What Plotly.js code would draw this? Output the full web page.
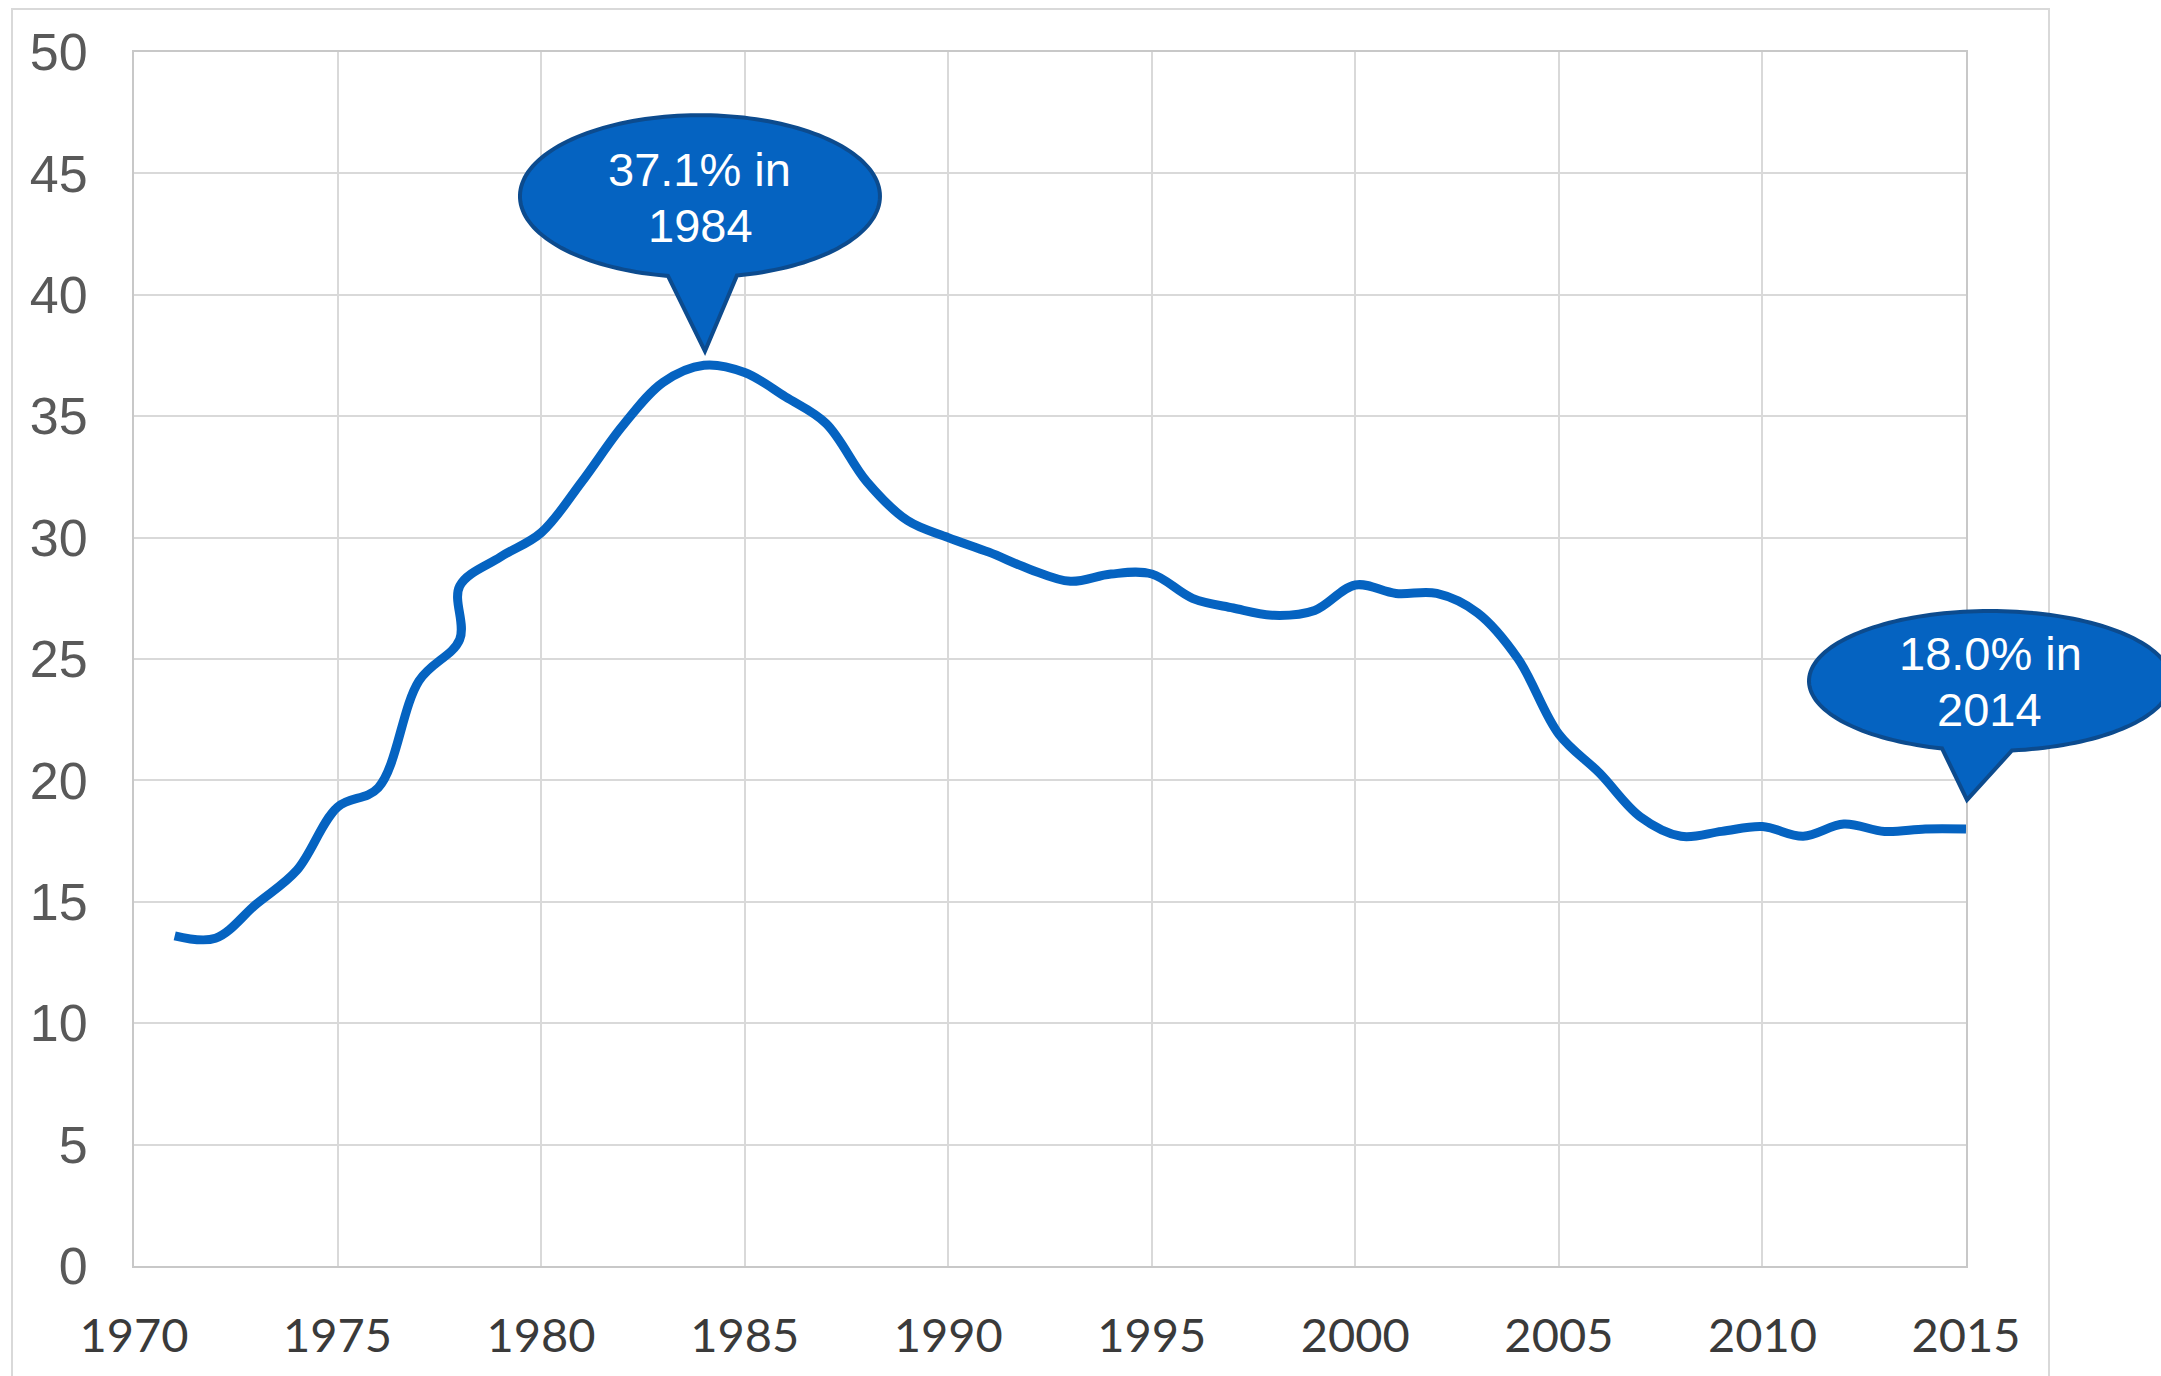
<!DOCTYPE html>
<html>
<head>
<meta charset="utf-8">
<script src="https://cdn.plot.ly/plotly-3.0.1.min.js"></script>
<style>
  html, body { margin: 0; padding: 0; background: #ffffff; }
  #chart { width: 2161px; height: 1376px; }
</style>
</head>
<body>
<div id="chart"></div>
<script>
// ---- data ----
const years = [1971, 1972, 1973, 1974, 1975, 1976, 1977, 1978, 1978, 1979,
               1980, 1981, 1982, 1983, 1984, 1985, 1986, 1987, 1988, 1989,
               1990, 1991, 1992, 1993, 1994, 1995, 1996, 1997, 1998, 1999,
               2000, 2001, 2002, 2003, 2004, 2005, 2006, 2007, 2008, 2009,
               2010, 2011, 2012, 2013, 2014, 2015];
const share = [13.6, 13.5, 14.9, 16.3, 18.9, 19.7, 24.1, 25.8, 28.0, 29.2,
               30.2, 32.3, 34.6, 36.4, 37.1, 36.8, 35.8, 34.7, 32.3, 30.7,
               30.0, 29.4, 28.7, 28.2, 28.5, 28.5, 27.5, 27.1, 26.8, 27.0,
               28.05, 27.7, 27.7, 26.9, 25.0, 21.9, 20.3, 18.5, 17.7, 17.9,
               18.1, 17.7, 18.2, 17.9, 18.0, 18.0];
const xTickVals = [1970, 1975, 1980, 1985, 1990, 1995, 2000, 2005, 2010, 2015];
const yTickVals = [0, 5, 10, 15, 20, 25, 30, 35, 40, 45, 50];
const calloutPeakText = ["37.1% in", "1984"];
const calloutLastText = ["18.0% in", "2014"];

// ---- styling ----
const lineBlue = '#0563C1';
const calloutEdge = '#0C4B8E';
const gridCol = '#d9d9d9';
const xRange = [1970, 2015];

// peak and last points (from data)
let peakIdx = 0;
share.forEach((v, i) => { if (v > share[peakIdx]) peakIdx = i; });
const lastIdx = share.length - 1;

// speech-bubble path in pixels relative to an anchor (y positive = up)
function bubblePath(cx, cy, rx, ry, baseLx, baseRx, tipX, tipY) {
  const angR = Math.atan2(-Math.sqrt(1 - Math.pow((baseRx - cx) / rx, 2)), (baseRx - cx) / rx);
  let angL = Math.atan2(-Math.sqrt(1 - Math.pow((baseLx - cx) / rx, 2)), (baseLx - cx) / rx);
  if (angL < angR) angL += 2 * Math.PI;
  const n = 160;
  let d = '';
  for (let k = 0; k <= n; k++) {
    const a = angR + (angL - angR) * k / n;
    const px = cx + rx * Math.cos(a);
    const py = cy + ry * Math.sin(a);
    d += (k === 0 ? 'M' : ' L') + px.toFixed(2) + ',' + py.toFixed(2);
  }
  d += ' L' + tipX + ',' + tipY + ' Z';
  return d;
}

const trace = {
  x: years,
  y: share,
  type: 'scatter',
  mode: 'lines',
  line: { color: lineBlue, width: 9, shape: 'spline', smoothing: 1 },
  hoverinfo: 'x+y',
  showlegend: false
};

const lastPaperX = (years[lastIdx] - xRange[0]) / (xRange[1] - xRange[0]);

const shapes = [
  // outer chart frame
  {
    type: 'rect', xref: 'paper', yref: 'paper', layer: 'below',
    x0: -0.0666, x1: 1.0453, y0: -0.12, y1: 1.0354,
    line: { color: gridCol, width: 2 }, fillcolor: 'rgba(0,0,0,0)'
  },
  // callout at the peak
  {
    type: 'path', xref: 'x', yref: 'y',
    xsizemode: 'pixel', ysizemode: 'pixel',
    xanchor: years[peakIdx], yanchor: share[peakIdx],
    path: bubblePath(-4, 169, 180, 81, -36, 33, 1, 14),
    fillcolor: lineBlue, line: { color: calloutEdge, width: 4 }, layer: 'above'
  },
  // callout at the last point
  {
    type: 'path', xref: 'paper', yref: 'y',
    xsizemode: 'pixel', ysizemode: 'pixel',
    xanchor: lastPaperX, yanchor: share[lastIdx],
    path: bubblePath(24, 148, 181, 70, -24, 46, 1, 29),
    fillcolor: lineBlue, line: { color: calloutEdge, width: 4 }, layer: 'above'
  }
];

const calloutFont = { family: 'Liberation Sans, Arial, sans-serif', size: 47, color: '#ffffff' };
function textAnn(txt, x, y, dx, dy) {
  return {
    text: txt, x: x, y: y, xref: 'x', yref: 'y', showarrow: false,
    xanchor: 'center', yanchor: 'middle', xshift: dx, yshift: dy,
    font: calloutFont
  };
}
const annotations = [
  textAnn(calloutPeakText[0], years[peakIdx], share[peakIdx], -4, 196),
  textAnn(calloutPeakText[1], years[peakIdx], share[peakIdx], -3, 140),
  textAnn(calloutLastText[0], years[lastIdx], share[lastIdx], 24, 175),
  textAnn(calloutLastText[1], years[lastIdx], share[lastIdx], 23, 119)
];

const layout = {
  width: 2161, height: 1376,
  margin: { l: 134, r: 195, t: 52, b: 110, pad: 0 },
  paper_bgcolor: '#ffffff', plot_bgcolor: '#ffffff',
  showlegend: false,
  xaxis: {
    range: xRange, tickmode: 'array', tickvals: xTickVals,
    ticktext: xTickVals.map(String),
    showgrid: true, gridcolor: gridCol, gridwidth: 2,
    showline: true, linecolor: '#c8c8c8', linewidth: 2, mirror: true,
    zeroline: false, ticks: '',
    ticklabelstandoff: 28,
    tickfont: { family: 'Lato, Carlito, sans-serif', size: 47, color: '#3a3a3a' }
  },
  yaxis: {
    range: [0, 50], tickmode: 'array', tickvals: yTickVals,
    ticktext: yTickVals.map(String),
    showgrid: true, gridcolor: gridCol, gridwidth: 2,
    showline: true, linecolor: '#c8c8c8', linewidth: 2, mirror: true,
    zeroline: false, ticks: '',
    ticklabelstandoff: 34,
    tickfont: { family: 'Liberation Sans, Arial, sans-serif', size: 52, color: '#595959' }
  },
  shapes: shapes,
  annotations: annotations
};

Plotly.newPlot('chart', [trace], layout, { displayModeBar: false, staticPlot: true });
</script>
</body>
</html>
